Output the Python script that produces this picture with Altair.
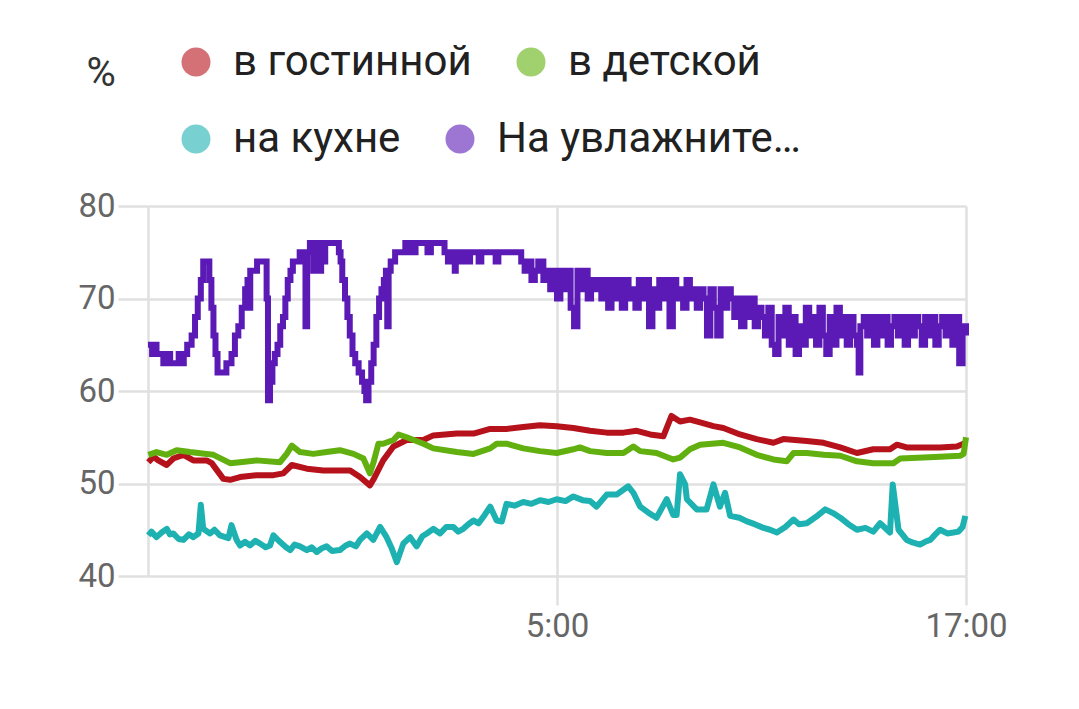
import altair as alt
import pandas as pd

# ---------------- data ----------------
series_names = ["в гостинной", "в детской", "на кухне", "На увлажните…"]
line_colors = ["#b5121b", "#62b00f", "#1eb1b1", "#5b1ab5"]
start_time = "2024-01-01 17:00"
x_tick_hours = [12, 24]          # -> "5:00", "17:00"
x_tick_labels = ["5:00", "17:00"]
y_ticks = [40, 50, 60, 70, 80]

red_h = [0.01, 0.16, 0.30, 0.55, 0.74, 1.04, 1.33, 1.72, 1.87, 2.21, 2.41, 2.70, 3.19, 3.68, 3.97,
         4.22, 4.66, 5.14, 5.63, 5.93, 6.22, 6.51, 6.61, 6.90, 7.20, 7.59, 8.08, 8.37, 9.06, 9.55,
         10.04, 10.52, 11.01, 11.50, 11.99, 12.48, 12.97, 13.46, 13.95, 14.34, 14.73, 15.12, 15.36,
         15.61, 15.90, 16.20, 16.59, 16.88, 17.37, 17.86, 18.35, 18.64, 19.33, 19.82, 20.31, 20.80,
         21.28, 21.77, 21.97, 22.26, 22.75, 23.24, 23.73, 24.0]
red_v = [52.3, 52.9, 52.5, 52.0, 52.7, 53.1, 52.5, 52.5, 52.2, 50.5, 50.4, 50.7, 50.9, 50.9, 51.1,
         52.0, 51.6, 51.4, 51.4, 51.4, 50.7, 49.8, 50.4, 52.5, 54.0, 54.7, 54.7, 55.2, 55.4, 55.4,
         55.9, 55.9, 56.1, 56.3, 56.2, 56.0, 55.7, 55.5, 55.5, 55.7, 55.3, 55.1, 57.3,
         56.7, 56.9, 56.6, 56.2, 56.0, 55.3, 54.8, 54.4, 54.8, 54.6, 54.4, 53.9, 53.3,
         53.7, 53.7, 54.2, 53.9, 53.9, 53.9, 54.0, 54.4]

green_h = [0.01, 0.25, 0.55, 0.84, 1.23, 1.72, 1.92, 2.41, 2.70, 3.19, 3.87, 4.07, 4.22, 4.46, 4.85,
           5.24, 5.63, 6.03, 6.32, 6.51, 6.61, 6.76, 6.90, 7.20, 7.35, 7.59, 8.08, 8.37, 9.06, 9.55,
           10.04, 10.23, 10.52, 11.01, 11.50, 11.99, 12.48, 12.67, 12.97, 13.46, 13.95, 14.24, 14.44,
           14.92, 15.41, 15.61, 15.90, 16.20, 16.88, 17.37, 17.86, 18.35, 18.74, 18.94, 19.33, 19.82,
           20.31, 20.80, 21.28, 21.87, 22.07, 22.75, 23.24, 23.83, 23.93, 24.0]
green_v = [53.1, 53.4, 53.1, 53.6, 53.4, 53.2, 53.1, 52.2, 52.3, 52.5, 52.3, 53.2, 54.1, 53.4, 53.2,
           53.4, 53.6, 53.2, 52.7, 51.1, 52.2, 54.3, 54.3, 54.7, 55.3, 55.0, 54.3, 53.8, 53.4, 53.2,
           53.8, 54.3, 54.3, 53.8, 53.5, 53.3, 53.7, 53.9, 53.5, 53.3, 53.3, 54.0, 53.5,
           53.3, 52.6, 52.8, 53.7, 54.2, 54.4, 53.9, 53.1, 52.6, 52.4, 53.3, 53.3, 53.1,
           53.0, 52.4, 52.2, 52.2, 52.7, 52.8, 52.9, 53.0, 53.2, 55.0]

teal_h = [0.01, 0.10, 0.25, 0.40, 0.55, 0.64, 0.74, 0.90, 1.04, 1.20, 1.33, 1.48, 1.55, 1.62, 1.82,
          1.95, 2.11, 2.36, 2.45, 2.60, 2.70, 2.85, 2.99, 3.15, 3.29, 3.45, 3.58, 3.68, 3.87, 4.05,
          4.17, 4.30, 4.46, 4.66, 4.80, 4.95, 5.10, 5.24, 5.40, 5.63, 5.80, 5.93, 6.10, 6.22, 6.42,
          6.61, 6.81, 7.00, 7.15, 7.30, 7.49, 7.69, 7.88, 8.05, 8.18, 8.37, 8.57, 8.75, 8.96, 9.10,
          9.25, 9.40, 9.55, 9.70, 9.84, 10.04, 10.23, 10.38, 10.52, 10.75, 11.01, 11.25, 11.50,
          11.75, 11.99, 12.25, 12.48, 12.75, 12.97, 13.16, 13.46, 13.75, 14.09, 14.24, 14.44, 14.70,
          14.92, 15.22, 15.41, 15.51, 15.61, 15.76, 15.81, 16.10, 16.39, 16.59, 16.78, 16.93, 17.08,
          17.35, 17.57, 17.80, 18.06, 18.25, 18.45, 18.70, 18.94, 19.10, 19.33, 19.60, 19.87, 20.10,
          20.31, 20.55, 20.80, 21.05, 21.28, 21.48, 21.77, 21.85, 22.02, 22.26, 22.45, 22.65, 22.80,
          22.95, 23.10, 23.24, 23.45, 23.63, 23.78, 23.90, 23.98]
teal_v = [44.4, 44.8, 44.2, 44.7, 45.1, 44.5, 44.6, 44.0, 43.9, 44.5, 44.2, 44.6, 47.7, 45.1, 44.6,
          45.0, 44.4, 44.1, 45.5, 43.9, 43.3, 43.7, 43.3, 43.8, 43.5, 43.1, 43.3, 44.4, 43.7, 43.1,
          42.8, 43.4, 43.2, 42.8, 43.1, 42.6, 43.0, 43.2, 42.7, 42.8, 43.3, 43.5, 43.2, 43.9, 44.6,
          43.9, 45.3, 44.2, 43.0, 41.5, 43.5, 44.2, 43.2, 44.3, 44.6, 45.1, 44.6, 45.3, 45.3, 44.8,
          45.1, 45.6, 46.0, 45.7, 46.4, 47.5, 46.0, 45.9, 47.8, 47.6, 48.0, 47.8, 48.2,
          48.0, 48.3, 48.1, 48.6, 48.2, 48.1, 47.5, 48.8, 48.8, 49.7, 49.0, 47.5, 46.8,
          46.3, 48.3, 46.6, 46.6, 51.0, 49.9, 48.3, 47.2, 47.2, 49.9, 47.5, 49.0, 46.5,
          46.3, 45.9, 45.6, 45.2, 45.0, 44.7, 45.3, 46.1, 45.6, 45.7, 46.4, 47.2, 46.8,
          46.3, 45.6, 45.0, 45.2, 44.8, 45.7, 44.7, 49.9, 45.0, 43.9, 43.6, 43.4, 43.7,
          43.9, 44.5, 45.0, 44.6, 44.7, 44.8, 45.3, 46.5]

purple_h = [0.00, 0.12, 0.18, 0.25, 0.45, 0.60, 0.65, 0.90, 1.00, 1.05, 1.15, 1.28, 1.38, 1.46, 1.55,
            1.62, 1.80, 1.86, 1.92, 1.98, 2.04, 2.30, 2.45, 2.55, 2.65, 2.75, 2.85, 2.92, 2.97, 3.00,
            3.20, 3.48, 3.52, 3.58, 3.65, 3.72, 3.80, 3.88, 3.96, 4.03, 4.10, 4.18, 4.25, 4.45, 4.62,
            4.67, 4.75, 4.85, 4.90, 5.00, 5.08, 5.15, 5.20, 5.60, 5.65, 5.70, 5.78, 5.85, 5.92, 6.00,
            6.08, 6.18, 6.28, 6.35, 6.40, 6.47, 6.55, 6.62, 6.70, 6.78, 6.85, 6.92, 6.98, 7.02, 7.06,
            7.12, 7.25, 7.55, 7.70, 7.85, 8.20, 8.30, 8.70, 8.80, 8.90, 9.00, 9.03, 9.20, 9.28, 9.40,
            9.45, 9.70, 9.78, 10.20, 10.28, 10.95, 11.05, 11.15, 11.25, 11.35, 11.45,
            11.5, 11.6, 11.7, 11.8, 11.9, 12.0, 12.1, 12.2, 12.3, 12.4, 12.5, 12.6, 12.7, 12.8, 12.9,
            13.0, 13.1, 13.2, 13.3, 13.4, 13.5, 13.6, 13.7, 13.8, 13.9, 14.0, 14.1, 14.2, 14.3, 14.4,
            14.5, 14.6, 14.7, 14.8, 14.9, 15.0, 15.1, 15.2, 15.3, 15.4, 15.5, 15.6, 15.7, 15.8, 15.9,
            16.0, 16.1, 16.2, 16.3, 16.4, 16.5, 16.6, 16.7, 16.8, 16.9, 17.0, 17.1, 17.2, 17.3, 17.4,
            17.5, 17.6, 17.7, 17.8, 17.9, 18.0, 18.1, 18.2, 18.3, 18.4, 18.5, 18.6, 18.7, 18.8, 18.9,
            19.0, 19.1, 19.2, 19.3, 19.4, 19.5, 19.6, 19.7, 19.8, 19.9, 20.0, 20.1, 20.2, 20.3, 20.4,
            20.5, 20.6, 20.7, 20.8, 20.85, 20.9, 21.0, 21.1, 21.2, 21.3, 21.4, 21.5, 21.6, 21.7, 21.8,
            21.9, 22.0, 22.1, 22.2, 22.3, 22.4, 22.5, 22.6, 22.7, 22.8, 22.9, 23.0, 23.1, 23.2, 23.3,
            23.4, 23.5, 23.6, 23.7, 23.8, 23.9, 24.0]
purple_v = [65, 64, 65, 64, 63, 64, 63, 64, 63, 64, 65, 66, 68, 70, 72,
            74, 72, 69, 66, 64, 62, 63, 64, 66, 67, 69, 71, 72, 69, 73,
            74, 70, 59, 61, 63, 64, 65, 67, 68, 70, 72, 73, 74, 75, 67,
            75, 76, 73, 76, 73, 76, 74, 76, 75, 74, 72, 70, 68, 66, 64,
            63, 62, 61, 60, 59, 61, 63, 65, 68, 70, 71, 72, 73, 67, 73,
            74, 75, 76, 75, 76, 75, 76, 75, 74, 75, 73, 75, 74, 75, 74,
            75, 74, 75, 74, 75, 74, 73, 74, 72, 73, 74,
            74, 72, 73, 71, 73, 70, 73, 71, 73, 69, 67, 73, 71, 73, 70,
            72, 71, 72, 70, 72, 69, 72, 70, 72, 69, 72, 70, 71, 69, 72,
            70, 72, 67, 71, 69, 72, 70, 72, 67, 72, 70, 71, 69, 72, 70,
            71, 69, 71, 70, 66, 71, 69, 66, 71, 69, 71, 70, 68, 70, 67,
            70, 68, 70, 67, 69, 68, 66, 69, 65, 64, 68, 66, 69, 65, 68,
            64, 67, 65, 69, 66, 68, 65, 69, 66, 64, 68, 65, 69, 66, 68,
            65, 68, 66, 65, 62, 67, 68, 66, 68, 65, 68, 66, 68, 65, 67,
            68, 66, 68, 65, 68, 66, 68, 67, 65, 68, 66, 68, 65, 67, 68,
            66, 68, 65, 68, 63, 67, 66]

# ---------------- table ----------------
t0 = pd.Timestamp(start_time)
rows = []
for name, hs, vs in [(series_names[0], red_h, red_v), (series_names[1], green_h, green_v),
                     (series_names[2], teal_h, teal_v), (series_names[3], purple_h, purple_v)]:
    for h, v in zip(hs, vs):
        rows.append({"series": name, "time": t0 + pd.Timedelta(hours=h), "value": v})
df = pd.DataFrame(rows)
smooth = df[df["series"] != series_names[3]]
steps = df[df["series"] == series_names[3]]
# hidden (clipped, out of domain) rows, only used to draw the filled legend circles, one legend per row
legend_df1 = pd.DataFrame({"series": series_names[:2], "time": [t0] * 2, "value": [0] * 2})
legend_df2 = pd.DataFrame({"series": series_names[2:], "time": [t0] * 2, "value": [0] * 2})

def dt(h):
    t = t0 + pd.Timedelta(hours=h)
    return alt.DateTime(year=t.year, month=t.month, date=t.day, hours=t.hour, minutes=t.minute)

x_enc = alt.X(
    "time:T",
    scale=alt.Scale(domain=[dt(0), dt(24)], nice=False),
    axis=alt.Axis(
        values=[dt(h) for h in x_tick_hours],
        format="%-H:%M",
        title=None,
        domain=False,
        grid=True,
        gridColor="#e0e0e0",
        gridWidth=2.5,
        tickColor="#e0e0e0",
        tickWidth=2.5,
        tickSize=29,
        labelFont="Roboto",
        labelFontSize=33,
        labelColor="#666666",
        labelPadding=5,
        labelFlush=False,
    ),
)
y_enc = alt.Y(
    "value:Q",
    scale=alt.Scale(domain=[40, 80], nice=False, zero=False),
    axis=alt.Axis(
        values=y_ticks,
        title="%",
        titleAngle=0,
        titleAlign="left",
        titleBaseline="alphabetic",
        titleX=-62,
        titleY=-121,
        titleFont="Roboto",
        titleFontSize=40,
        titleFontWeight="normal",
        titleColor="#333333",
        domain=True,
        domainColor="#e0e0e0",
        domainWidth=2.5,
        grid=True,
        gridColor="#e0e0e0",
        gridWidth=2.5,
        tickColor="#e0e0e0",
        tickWidth=2.5,
        tickSize=30,
        labelFont="Roboto",
        labelFontSize=33,
        labelColor="#666666",
        labelPadding=3,
    ),
)

def make_legend(y, values):
    return alt.Legend(
        title=None,
        orient="none",
        legendX=27,
        legendY=y,
        direction="horizontal",
        values=values,
        padding=0,
        symbolType="circle",
        symbolSize=841,
        symbolStrokeWidth=0,
        symbolOpacity=0.6,
        labelFont="Roboto",
        labelFontSize=42,
        labelColor="#212121",
        labelOffset=16,
        labelLimit=0,
        columnPadding=38,
    )

legend_row1 = alt.Chart(legend_df1).mark_circle(clip=True, size=10).encode(
    x=x_enc, y=y_enc,
    color=alt.Color("series:N", scale=alt.Scale(domain=series_names, range=line_colors),
                    legend=make_legend(-165, series_names[:2]), sort=series_names),
)
legend_row2 = alt.Chart(legend_df2).mark_circle(clip=True, size=10).encode(
    x=x_enc, y=y_enc,
    fill=alt.Fill("series:N", scale=alt.Scale(domain=series_names[2:], range=line_colors[2:]),
                  legend=make_legend(-88, series_names[2:]), sort=series_names[2:]),
)
lines = alt.Chart(smooth).mark_line(strokeWidth=6, strokeJoin="round").encode(
    x=x_enc, y=y_enc,
    color=alt.Color("series:N", scale=alt.Scale(domain=series_names, range=line_colors),
                    legend=None, sort=series_names),
)
step_line = alt.Chart(steps).mark_line(strokeWidth=6, interpolate="step-after", strokeJoin="miter").encode(
    x=x_enc, y=y_enc,
    color=alt.Color("series:N", scale=alt.Scale(domain=series_names, range=line_colors),
                    legend=None, sort=series_names),
)

chart = alt.layer(legend_row1, legend_row2, lines, step_line).resolve_scale(
    color="shared", fill="independent"
).properties(
    width=818,
    height=370,
    autosize=alt.AutoSizeParams(type="none"),
    padding={"left": 140, "top": 198, "right": 105, "bottom": 125},
    background="white",
).configure_view(strokeWidth=0)

chart.save("out.html", embed_options={"renderer": "svg", "actions": False})
